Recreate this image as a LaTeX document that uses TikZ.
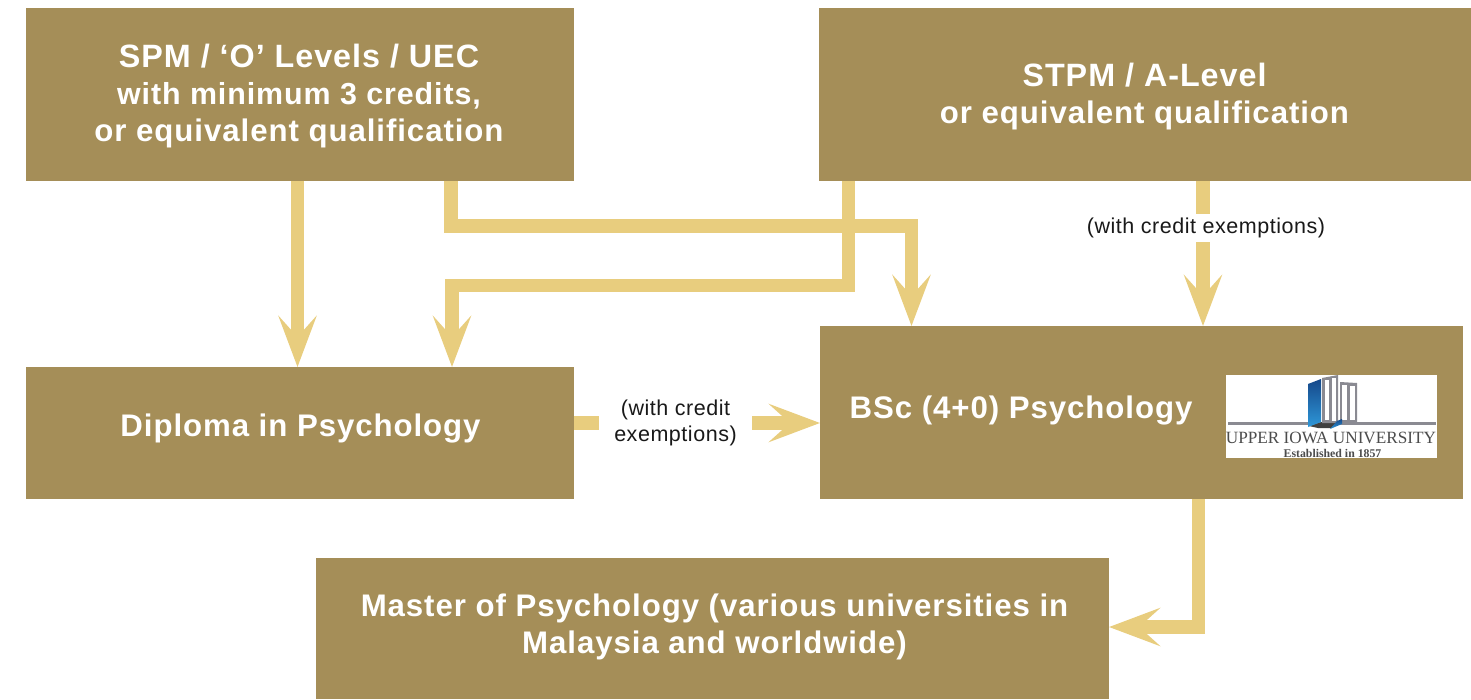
\documentclass[tikz,border=0pt]{standalone}
\usepackage{fontspec}
\setmainfont{Liberation Sans}
\newfontfamily\headfont[LetterSpace=3.0]{Liberation Sans}
\newfontfamily\smallfont[LetterSpace=2.5]{Liberation Sans}
\newfontfamily\logofont{Liberation Serif}
\usetikzlibrary{arrows.meta,positioning,calc}
\definecolor{boxgold}{HTML}{A58E58}
\definecolor{linkgold}{HTML}{E8CD7E}
\definecolor{logotop}{HTML}{16488A}
\definecolor{logobot}{HTML}{2E97D8}
\definecolor{logogray}{HTML}{8A8A92}
\newcommand{\capline}{\fontsize{32.3}{37}\selectfont}
\newcommand{\tightline}{\fontsize{30.4}{37}\selectfont}
\tikzset{
  x=1pt,y=-1pt,
  goldbox/.style={fill=boxgold,draw=none,inner sep=0pt,outer sep=0pt,anchor=north west},
  headtext/.style={text=white,font=\headfont\fontsize{31.2}{37}\selectfont\bfseries,align=center,inner sep=0pt},
  smalltext/.style={text=black!90,font=\smallfont\fontsize{21.5}{26}\selectfont,align=center,inner sep=0pt},
  link/.style={draw=linkgold,line width=13.5pt,miter limit=10},
  linkarrow/.style={link,-{Stealth[length=51pt,width=38pt,inset=21pt,fill=linkgold]}},
}
\begin{document}
\begin{tikzpicture}
\useasboundingbox (0,0) rectangle (1471,699);
% boxes
\node[goldbox,minimum width=548pt,minimum height=173pt] (spm) at (26,8) {};
\node[goldbox,minimum width=652pt,minimum height=173pt] (stpm) at (819,8) {};
\node[goldbox,minimum width=548pt,minimum height=132pt] (dip) at (26,367) {};
\node[goldbox,minimum width=643pt,minimum height=173pt] (bsc) at (820,326) {};
\node[goldbox,minimum width=793pt,minimum height=141pt] (mas) at (316,558) {};
% connectors
\draw[linkarrow] ([xshift=-2.5pt]spm.south) -- ([xshift=-2.5pt]dip.north);
\coordinate (c1) at (451,226);
\coordinate (c2) at (911.5,226);
\draw[linkarrow] (c1 |- spm.south) -- (c1) -- (c2) -- (c2 |- bsc.north);
\coordinate (c3) at (848.5,285.5);
\coordinate (c4) at (452,285.5);
\draw[linkarrow] (c3 |- stpm.south) -- (c3) -- (c4) -- (c4 |- dip.north);
\coordinate (c5) at (1203,226);
\draw[linkarrow] (c5 |- stpm.south) -- (c5 |- bsc.north);
\coordinate (c6) at (600,423);
\draw[linkarrow] (c6 -| dip.east) -- (c6 -| bsc.west);
\coordinate (c7) at (1198.5,627);
\draw[linkarrow] (c7 |- bsc.south) -- (c7) -- (c7 -| mas.east);
% labels on connectors
\node[smalltext,fill=white,minimum width=153pt,minimum height=60pt] (lab1) at (675.5,422.5) {(with credit\\exemptions)};
\node[smalltext,fill=white,inner ysep=4pt] (lab2) at (1206,228) {(with credit exemptions)};
% box texts
\node[headtext] (tspm) at (299,96) {{\capline SPM / ‘O’ Levels / UEC}\\{\tightline with minimum 3 credits,}\\or equivalent qualification};
\node[headtext] (tstpm) at (1144.5,97) {{\capline STPM / A-Level}\\or equivalent qualification};
\node[headtext] (tdip) at (300.5,428.5) {Diploma in Psychology};
\node[headtext] (tbsc) at (1021,410.5) {BSc (4+0) Psychology};
\node[headtext] (tmas) at (714.5,627) {Master of Psychology (various universities in\\Malaysia and worldwide)};
% logo
\node[fill=white,inner sep=0pt,anchor=north west,minimum width=211pt,minimum height=83pt] (logo) at (1226,375) {};
\fill[logogray] (1228,422) rectangle (1436,425);
\fill[black!75] (1309,426) -- (1322,422) -- (1340,422) -- (1332,428) -- (1318,428) -- cycle;
\shade[top color=logotop,bottom color=logobot] (1308,384) -- (1321,379) -- (1321,422) -- (1308,427) -- cycle;
\fill[logogray] (1322,378) -- (1338,375) -- (1338,423) -- (1322,423) -- cycle;
\fill[white] (1325,380) rectangle (1329,420);
\fill[white] (1332,378) rectangle (1336,421);
\fill[logogray] (1340,382) -- (1357,383) -- (1357,422) -- (1340,422) -- cycle;
\fill[white] (1342,385) rectangle (1347,420);
\fill[white] (1350,386) rectangle (1355,420);
\shade[top color=logotop,bottom color=logobot] (1330,429) -- (1342,424) -- (1342,419) -- (1337,421) -- cycle;
\node[inner sep=0pt,text=black!70,font=\logofont\fontsize{17.2}{18}\selectfont] (logo1) at (1331,438) {UPPER IOWA UNIVERSITY};
\node[inner sep=0pt,text=black!70,font=\logofont\fontsize{11.8}{12}\selectfont\bfseries] (logo2) at (1332.5,453) {Established in 1857};
\end{tikzpicture}
\end{document}
